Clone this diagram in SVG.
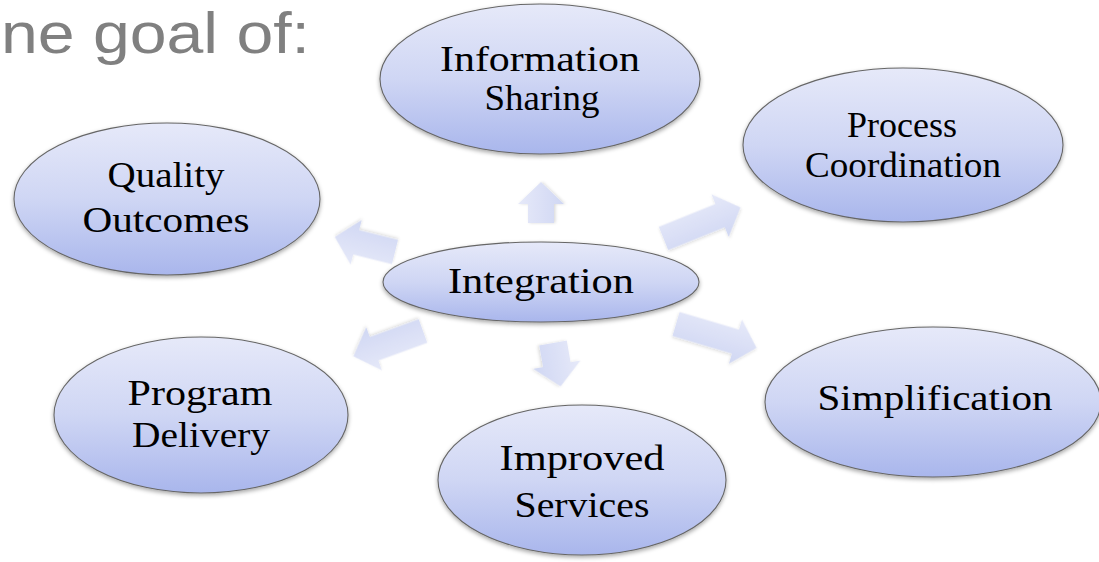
<svg xmlns="http://www.w3.org/2000/svg" width="1099" height="562" viewBox="0 0 1099 562">
<style>
.node ellipse{fill:url(#eg);stroke:#666666;stroke-width:1.1;filter:url(#sh)}
.node text{font-family:"Liberation Serif","Times New Roman",serif;font-size:35px;fill:#000;text-anchor:middle}
.arr{fill:url(#ag);filter:url(#ash)}
.title{font-family:"Liberation Sans",Arial,sans-serif;font-size:57px;fill:#808080}
</style>
<defs>
<linearGradient id="eg" x1="0" y1="0" x2="0" y2="1">
<stop offset="0" stop-color="#e6e9f9"/>
<stop offset="0.5" stop-color="#cfd6f4"/>
<stop offset="1" stop-color="#a9b6ec"/>
</linearGradient>
<linearGradient id="ag" x1="0" y1="0" x2="0" y2="1">
<stop offset="0" stop-color="#e6e9f9"/>
<stop offset="1" stop-color="#d0d7f3"/>
</linearGradient>
<filter id="sh" x="-10%" y="-10%" width="120%" height="130%">
<feDropShadow dx="0" dy="2" stdDeviation="2" flood-color="#000" flood-opacity="0.35"/>
</filter>
<filter id="ash" x="-20%" y="-20%" width="140%" height="140%">
<feDropShadow dx="0" dy="1.5" stdDeviation="1.5" flood-color="#000" flood-opacity="0.15"/>
</filter>
</defs>
<rect width="1099" height="562" fill="#ffffff"/>
<text class="title" x="1" y="53" textLength="309" lengthAdjust="spacingAndGlyphs">ne goal of:</text>
<g id="connectors">
<path class="arr" transform="translate(541,223) rotate(-90)" d="M0,-13 L19,-13 L19,-23 L41,0 L19,23 L19,13 L0,13 Z"/>
<path class="arr" transform="translate(663.5,238.5) rotate(-22)" d="M0,-12.5 L61,-12.5 L61,-23 L83,0 L61,23 L61,12.5 L0,12.5 Z"/>
<path class="arr" transform="translate(395,252) rotate(194)" d="M0,-12.5 L40,-12.5 L40,-23 L62,0 L40,23 L40,12.5 L0,12.5 Z"/>
<path class="arr" transform="translate(423,331) rotate(160)" d="M0,-12.5 L52,-12.5 L52,-23 L74,0 L52,23 L52,12.5 L0,12.5 Z"/>
<path class="arr" transform="translate(553,343) rotate(80)" d="M0,-14 L22,-14 L22,-24 L44,0 L22,24 L22,14 L0,14 Z"/>
<path class="arr" transform="translate(676,324) rotate(16.5)" d="M0,-12.5 L62,-12.5 L62,-23 L84,0 L62,23 L62,12.5 L0,12.5 Z"/>
</g>
<g id="node-information-sharing" class="node">
<ellipse cx="540" cy="79" rx="160" ry="75"/>
<text x="540" y="71" textLength="200" lengthAdjust="spacingAndGlyphs">Information</text>
<text x="542" y="110" textLength="115" lengthAdjust="spacingAndGlyphs">Sharing</text>
</g>
<g id="node-process-coordination" class="node">
<ellipse cx="903" cy="145" rx="160" ry="77"/>
<text x="902" y="137" textLength="110" lengthAdjust="spacingAndGlyphs">Process</text>
<text x="903" y="177" textLength="196" lengthAdjust="spacingAndGlyphs">Coordination</text>
</g>
<g id="node-quality-outcomes" class="node">
<ellipse cx="167" cy="199" rx="153" ry="76"/>
<text x="166" y="187" textLength="117" lengthAdjust="spacingAndGlyphs">Quality</text>
<text x="166" y="232" textLength="167" lengthAdjust="spacingAndGlyphs">Outcomes</text>
</g>
<g id="node-integration" class="node">
<ellipse cx="541" cy="282" rx="158" ry="40"/>
<text x="541" y="293" textLength="186" lengthAdjust="spacingAndGlyphs">Integration</text>
</g>
<g id="node-program-delivery" class="node">
<ellipse cx="201" cy="415" rx="147" ry="78"/>
<text x="200" y="405" textLength="145" lengthAdjust="spacingAndGlyphs">Program</text>
<text x="201" y="447" textLength="138" lengthAdjust="spacingAndGlyphs">Delivery</text>
</g>
<g id="node-simplification" class="node">
<ellipse cx="933" cy="402" rx="168" ry="75"/>
<text x="935" y="410" textLength="235" lengthAdjust="spacingAndGlyphs">Simplification</text>
</g>
<g id="node-improved-services" class="node">
<ellipse cx="582" cy="480" rx="144" ry="75"/>
<text x="582" y="470" textLength="165" lengthAdjust="spacingAndGlyphs">Improved</text>
<text x="582" y="517" textLength="135" lengthAdjust="spacingAndGlyphs">Services</text>
</g>
</svg>
